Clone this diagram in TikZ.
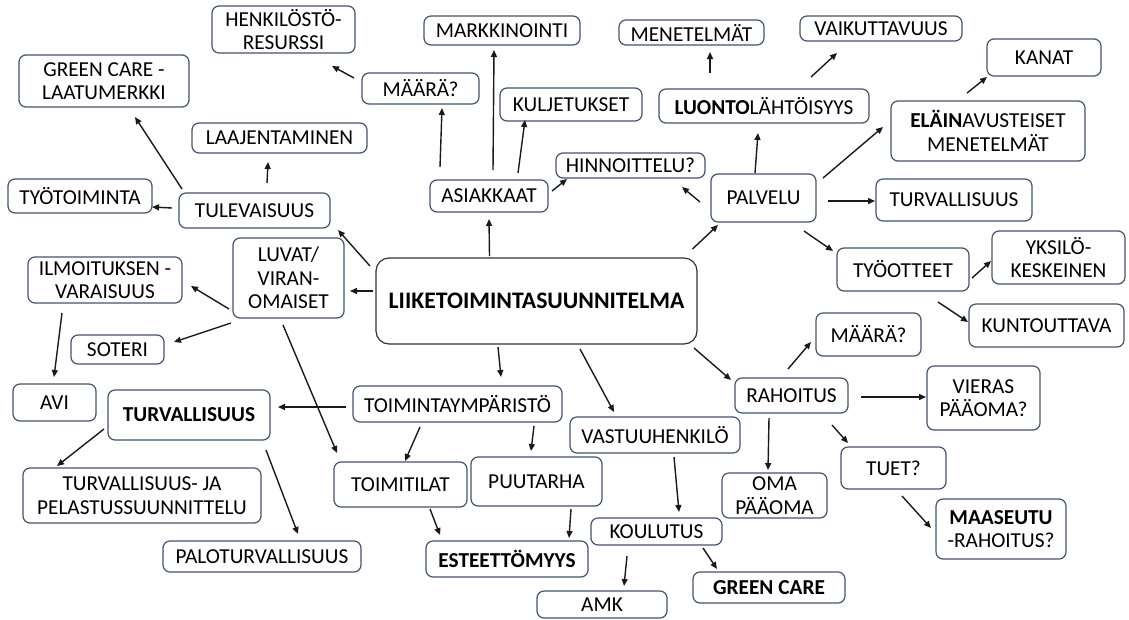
\documentclass[tikz,border=0pt]{standalone}
\usepackage{fontspec}
\setmainfont{Carlito}
\usetikzlibrary{arrows.meta,calc}
\definecolor{boxline}{HTML}{44546A}
\definecolor{arrcol}{HTML}{1A1A1A}
\tikzset{
  box/.style={draw=boxline, line width=1.2pt, rounded corners=7pt, inner sep=0pt,
    align=center, text=black, font=\fontsize{21.3}{23.5}\selectfont, fill=white},
  bigbox/.style={box, draw=black!80, rounded corners=13pt, font=\fontsize{23.7}{26}\selectfont},
  arr/.style={draw=arrcol, line width=1.4pt, -{Triangle[length=7pt,width=6pt]}},
}
\newcommand{\bx}[6]{\node[box, minimum width=#4pt, minimum height=#5pt] (#1) at (#2,#3) {#6};}
\begin{document}
\begin{tikzpicture}[x=1pt,y=-1pt]
\useasboundingbox (0,0) rectangle (1129,619);
\fill[white] (0,0) rectangle (1129,619);
% nodes
\bx{henk}{283.5}{29.5}{143}{47}{HENKILÖSTÖ-\\RESURSSI}
\bx{gcl}{104}{81}{170}{52}{GREEN CARE -\\LAATUMERKKI}
\bx{laaj}{279.5}{138}{175}{30}{LAAJENTAMINEN}
\bx{tyot}{80}{196}{144}{34}{TYÖTOIMINTA}
\bx{tulev}{254.5}{210.5}{151}{35}{TULEVAISUUS}
\bx{luvat}{288.5}{278}{111}{80}{LUVAT/\\VIRAN-\\OMAISET}
\bx{ilmo}{105}{280}{154}{46}{ILMOITUKSEN -\\VARAISUUS}
\bx{maaraa}{420.5}{88.5}{117}{31}{MÄÄRÄ?}
\bx{markk}{502}{30.5}{156}{29}{MARKKINOINTI}
\bx{kulj}{571}{104.5}{142}{33}{KULJETUKSET}
\bx{hinn}{630.5}{165.5}{149}{25}{HINNOITTELU?}
\bx{asiak}{489}{196}{118}{32}{ASIAKKAAT}
\bx{menet}{691.5}{32.5}{145}{25}{MENETELMÄT}
\bx{luonto}{764}{106}{210}{34}{\textbf{LUONTO}LÄHTÖISYYS}
\bx{vaik}{881}{28.5}{162}{25}{VAIKUTTAVUUS}
\bx{kanat}{1044}{57.5}{114}{37}{KANAT}
\bx{elain}{988}{131}{194}{60}{\textbf{ELÄIN}AVUSTEISET\\MENETELMÄT}
\bx{palvelu}{763.5}{198}{105}{48}{PALVELU}
\bx{turva}{954}{200}{156}{42}{TURVALLISUUS}
\bx{tyoott}{903}{269.5}{132}{43}{TYÖOTTEET}
\bx{yksilo}{1058.5}{257.5}{133}{53}{YKSILÖ-\\KESKEINEN}
\bx{kunt}{1046.5}{325.5}{155}{43}{KUNTOUTTAVA}
\bx{maarab}{868.5}{334.5}{105}{43}{MÄÄRÄ?}
\bx{rahoitus}{791.5}{395.5}{113}{35}{RAHOITUS}
\bx{vieras}{983.5}{398}{113}{64}{VIERAS\\PÄÄOMA?}
\bx{tuet}{893.5}{468}{105}{42}{TUET?}
\bx{oma}{774.5}{495.5}{105}{45}{OMA\\PÄÄOMA}
\bx{maaseutu}{1001}{529}{130}{60}{\textbf{MAASEUTU}\\-RAHOITUS?}
\bx{gc}{769}{587.5}{152}{31}{\textbf{GREEN CARE}}
\node[bigbox, minimum width=321pt, minimum height=86pt] (central) at (536.5,301) {\textbf{LIIKETOIMINTASUUNNITELMA}};
\bx{toimy}{457.5}{404}{209}{36}{TOIMINTAYMPÄRISTÖ}
\bx{vastuu}{655}{435}{170}{36}{VASTUUHENKILÖ}
\bx{toimitilat}{400.5}{484.5}{133}{45}{TOIMITILAT}
\bx{puutarha}{536.5}{481.5}{131}{49}{PUUTARHA}
\bx{koulutus}{656.5}{531.5}{131}{27}{KOULUTUS}
\bx{este}{507}{559}{162}{36}{\textbf{ESTEETTÖMYYS}}
\bx{amk}{602}{604.5}{130}{27}{AMK}
\bx{soteri}{117.5}{349.5}{93}{29}{SOTERI}
\bx{avi}{54.5}{402.5}{83}{37}{AVI}
\bx{turvb}{189}{415}{162}{50}{\textbf{TURVALLISUUS}}
\bx{tpel}{142}{495.5}{238}{55}{TURVALLISUUS- JA\\PELASTUSSUUNNITTELU}
\bx{palo}{262}{556.5}{198}{31}{PALOTURVALLISUUS}
% connectors
\draw[arr] ($(central)+(-47,-45)$) -- ($(asiak)+(0,23)$);
\draw[arr] ($(asiak)+(-49,-29)$) -- ($(maaraa)+(21.5,19.5)$);
\draw[arr] ($(asiak)+(4,-26)$) -- ($(markk)+(-8,19.5)$);
\draw[arr] ($(asiak)+(29,-23)$) -- ($(kulj)+(-46,15.5)$);
\draw[arr] ($(asiak)+(63,-5)$) -- ($(hinn)+(-63.5,13.5)$);
\draw[arr] ($(palvelu)+(-63.5,4)$) -- ($(hinn)+(51.5,21.5)$);
\draw[arr] ($(central)+(156,-52)$) -- ($(palvelu)+(-45.5,27)$);
\draw[arr] ($(palvelu)+(-8.5,-25)$) -- ($(luonto)+(-6,27)$);
\draw[arr] ($(luonto)+(-54,-33)$) -- ($(menet)+(18.5,19.5)$);
\draw[arr] ($(luonto)+(47,-29)$) -- ($(vaik)+(-44,24.5)$);
\draw[arr] ($(palvelu)+(59.5,-20)$) -- ($(elain)+(-105,-4)$);
\draw[arr] ($(elain)+(-21,-38)$) -- ($(kanat)+(-57,19.5)$);
\draw[arr] ($(palvelu)+(64.5,3)$) -- ($(turva)+(-79,1)$);
\draw[arr] ($(palvelu)+(40.5,33)$) -- ($(tyoott)+(-70,-18.5)$);
\draw[arr] ($(tyoott)+(69,8.5)$) -- ($(yksilo)+(-67.5,3.5)$);
\draw[arr] ($(tyoott)+(35,32.5)$) -- ($(kunt)+(-78.5,-3.5)$);
\draw[arr] ($(central)+(157.5,47)$) -- ($(rahoitus)+(-60.5,-15.5)$);
\draw[arr] ($(rahoitus)+(-3.5,-26.5)$) -- ($(maarab)+(-57.5,7.5)$);
\draw[arr] ($(rahoitus)+(69.5,1.5)$) -- ($(vieras)+(-57.5,-1)$);
\draw[arr] ($(rahoitus)+(40.5,29.5)$) -- ($(tuet)+(-45.5,-25)$);
\draw[arr] ($(rahoitus)+(-22.5,22.5)$) -- ($(oma)+(-6.5,-25.5)$);
\draw[arr] ($(tuet)+(8.5,28)$) -- ($(maaseutu)+(-70,-1)$);
\draw[arr] ($(central)+(43.5,48)$) -- ($(vastuu)+(-41,-23)$);
\draw[arr] ($(vastuu)+(19,22)$) -- ($(koulutus)+(22.5,-19.5)$);
\draw[arr] ($(koulutus)+(-29.5,24.5)$) -- ($(amk)+(22,-18.5)$);
\draw[arr] ($(koulutus)+(46.5,16.5)$) -- ($(gc)+(-52,-18.5)$);
\draw[arr] ($(central)+(-38.5,46)$) -- ($(toimy)+(43.5,-27)$);
\draw[arr] ($(toimy)+(-37.5,23)$) -- ($(toimitilat)+(4.5,-23.5)$);
\draw[arr] ($(toimy)+(76.5,22)$) -- ($(puutarha)+(-5.5,-30.5)$);
\draw[arr] ($(toimitilat)+(29.5,24.5)$) -- ($(este)+(-67,-24)$);
\draw[arr] ($(puutarha)+(34.5,27.5)$) -- ($(este)+(62,-21)$);
\draw[arr] ($(toimy)+(-111.5,3)$) -- ($(turvb)+(89,-8)$);
\draw[arr] ($(luvat)+(-5.5,47)$) -- ($(toimitilat)+(-63.5,-31.5)$);
\draw[arr] ($(turvb)+(-85,14)$) -- ($(tpel)+(-85,-29.5)$);
\draw[arr] ($(turvb)+(77,35)$) -- ($(palo)+(36,-22.5)$);
\draw[arr] ($(luvat)+(-57.5,45)$) -- ($(soteri)+(56.5,-7.5)$);
\draw[arr] ($(ilmo)+(-43,33)$) -- ($(avi)+(-0.5,-25.5)$);
\draw[arr] ($(luvat)+(-59.5,31)$) -- ($(ilmo)+(86,6)$);
\draw[arr] ($(central)+(-163.5,-10)$) -- ($(luvat)+(61.5,13)$);
\draw[arr] ($(central)+(-166.5,-35)$) -- ($(tulev)+(83.5,19.5)$);
\draw[arr] ($(tulev)+(-82.5,-2.5)$) -- ($(tyot)+(72,11)$);
\draw[arr] ($(tulev)+(-72.5,-21.5)$) -- ($(gcl)+(31,36)$);
\draw[arr] ($(tulev)+(12.5,-27.5)$) -- ($(laaj)+(-11.5,24)$);
\draw[arr] ($(maaraa)+(-66.5,-10.5)$) -- ($(henk)+(48.5,36.5)$);
\end{tikzpicture}
\end{document}
